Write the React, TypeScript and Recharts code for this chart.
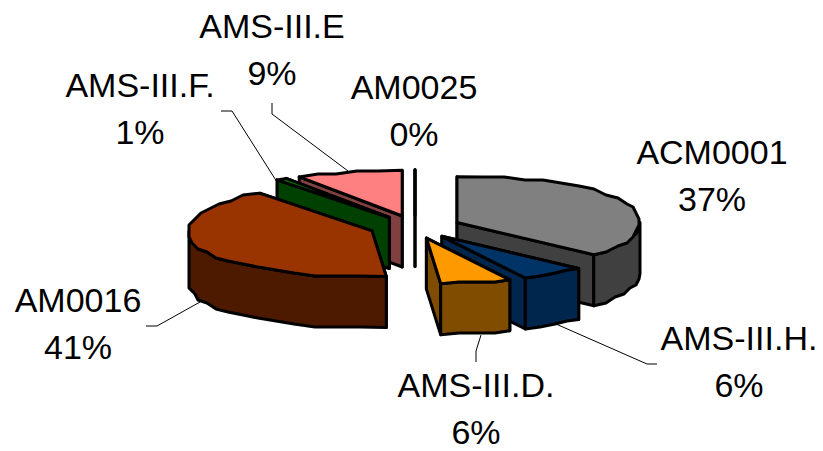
import { Pie, PieChart } from "recharts";

const names = ["ACM0001", "AMS-III.H.", "AMS-III.D.", "AM0016", "AMS-III.F.", "AMS-III.E", "AM0025"];
const shares = [37, 6, 6, 41, 1, 9, 0];

const topColors = ["#808080", "#003366", "#FF9900", "#993300", "#008000", "#FF8080", "#000000"];
const sideColors = ["#404040", "#00264D", "#804D00", "#4D1A00", "#004000", "#804040", "#000000"];

// label centre x, first baseline, and the elbowed leader line
const labelSpots: Record<string, { x: number; y: number; leader?: string }> = {
  ACM0001: { x: 712, y: 164 },
  "AMS-III.H.": { x: 739, y: 350, leader: "556,324 647,364 657,364" },
  "AMS-III.D.": { x: 476, y: 397, leader: "481,335 476,351 476,362" },
  AM0016: { x: 78, y: 312, leader: "200,302 157,326 146,326" },
  "AMS-III.F.": { x: 140, y: 97, leader: "277,182 232,111 221,111" },
  "AMS-III.E": { x: 272, y: 38, leader: "348,171 272,114 272,103" },
  AM0025: { x: 414, y: 99 },
};

const rows = names.map((name, i) => ({ name, value: shares[i] }));
// the left half is painted back to front by walking the circle the other way
const reversedRows = [...rows].reverse();

const SQUASH = 0.25;
const EXPLODE = 0.25;
const DEPTH = 51;
const GRID = 3;
// below 1 the rim bulges towards a rounded box instead of a true ellipse
const RIM_POWER = 0.92;
const LINE_GAP = 47;
const RIGHT_HALF = names.slice(0, 3);

const snap = (v: number) => Math.round(v / GRID) * GRID;
const rad = (deg: number) => (deg * Math.PI) / 180;
const bulge = (v: number) => Math.sign(v) * Math.pow(Math.abs(v), RIM_POWER);

function SliceShape(props: any) {
  const { cx, cy, outerRadius: r, startAngle, endAngle, name, half } = props;
  if (RIGHT_HALF.includes(name) !== (half === "right")) return <g />;
  const idx = names.indexOf(name);
  const lo = Math.min(startAngle, endAngle);
  const hi = Math.max(startAngle, endAngle);
  const mid = (lo + hi) / 2;
  const ax = cx + EXPLODE * r * Math.cos(rad(mid));
  const ay = cy - EXPLODE * r * SQUASH * Math.sin(rad(mid));
  const rim = (deg: number) => [
    ax + r * bulge(Math.cos(rad(deg))),
    ay - r * SQUASH * bulge(Math.sin(rad(deg))),
  ];

  const arc = (from: number, to: number) => {
    const pts: number[][] = [];
    const steps = Math.max(1, Math.ceil((to - from) / 7));
    for (let i = 0; i <= steps; i++) {
      const p = rim(from + ((to - from) * i) / steps);
      pts.push(i === 0 || i === steps ? p : [snap(p[0]), snap(p[1])]);
    }
    return pts;
  };
  const toPath = (pts: number[][]) =>
    "M" + pts.map((p) => `${p[0].toFixed(1)},${p[1].toFixed(1)}`).join("L") + "Z";

  const edges = [lo, hi].map((d) => rim(d)).sort((a, b) => a[1] - b[1]);
  const walls = edges.map((p) =>
    toPath([[ax, ay], p, [p[0], p[1] + DEPTH], [ax, ay + DEPTH]]),
  );

  // only the part of the rim facing the viewer gets a curved wall
  const frontRanges: number[][] = [];
  for (const [a, b] of [[-180, 0], [180, 360]]) {
    const f = Math.max(lo, a);
    const t = Math.min(hi, b);
    if (t > f) frontRanges.push([f, t]);
  }

  const common = { stroke: "#000", strokeWidth: 3, strokeLinejoin: "round" as const };
  return (
    <g>
      {walls.map((d, i) => (
        <path key={i} d={d} fill={sideColors[idx]} {...common} />
      ))}
      {frontRanges.map(([f, t], i) => {
        const top = arc(f, t);
        const bottom = [...top].reverse().map((p) => [p[0], p[1] + DEPTH]);
        return <path key={i} d={toPath([...top, ...bottom])} fill={sideColors[idx]} {...common} />;
      })}
      <path d={toPath([[ax, ay], ...arc(lo, hi)])} fill={topColors[idx]} {...common} />
    </g>
  );
}

function SliceLabel(props: any) {
  const spot = labelSpots[props.name];
  const textProps = {
    x: spot.x,
    textAnchor: "middle" as const,
    fontFamily: "Liberation Sans",
    fontSize: 34,
    fill: "#000",
  };
  return (
    <g>
      {spot.leader && <polyline points={spot.leader} fill="none" stroke="#000" strokeWidth={1} />}
      <text y={spot.y} {...textProps}>
        {props.name}
      </text>
      <text y={spot.y + LINE_GAP} {...textProps}>
        {props.value}%
      </text>
    </g>
  );
}

export default function App() {
  return (
    <div style={{ position: "absolute", left: 0, top: 0 }}>
      <PieChart width={823} height={451} margin={{ top: 0, right: 0, bottom: 0, left: 0 }}>
        <Pie
          data={reversedRows}
          dataKey="value"
          nameKey="name"
          cx={415}
          cy={227}
          outerRadius={183}
          startAngle={90}
          endAngle={450}
          isAnimationActive={false}
          shape={(p: any) => <SliceShape {...p} half="left" />}
        />
        <Pie
          data={rows}
          dataKey="value"
          nameKey="name"
          cx={415}
          cy={227}
          outerRadius={183}
          startAngle={90}
          endAngle={-270}
          isAnimationActive={false}
          labelLine={false}
          label={(p: any) => <SliceLabel {...p} />}
          shape={(p: any) => <SliceShape {...p} half="right" />}
        />
      </PieChart>
    </div>
  );
}
